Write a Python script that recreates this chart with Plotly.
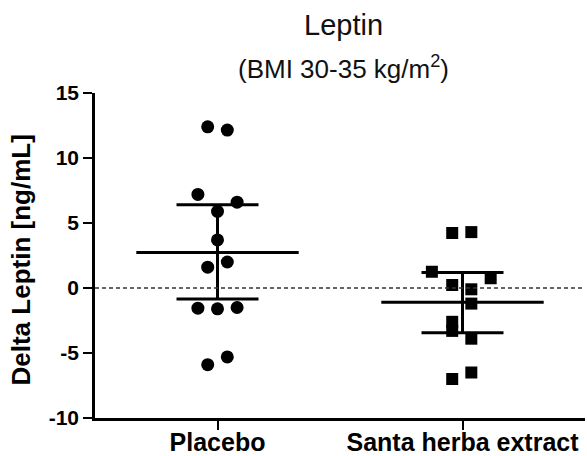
import plotly.graph_objects as go

categories = ["Placebo", "Santa herba extract"]

placebo_values = [12.4, 12.15, 7.2, 6.6, 5.9, 3.7, 2.0, 1.6, -1.55, -1.6, -1.5, -5.3, -5.9]
placebo_jitter = [-0.04, 0.04, -0.08, 0.08, 0.0, 0.0, 0.04, -0.04, -0.08, 0.0, 0.08, 0.04, -0.04]

santa_values = [4.23, 4.3, 1.25, 0.75, 0.23, -0.1, -1.2, -2.6, -3.3, -3.9, -6.5, -7.0]
santa_jitter = [-0.042, 0.036, -0.125, 0.115, -0.042, 0.036, 0.036, -0.042, -0.042, 0.036, 0.036, -0.042]

group_means = [2.73, -1.1]
group_upper = [6.4, 1.2]
group_lower = [-0.85, -3.44]

y_ticks = [-10, -5, 0, 5, 10, 15]

FONT = "Arial, Liberation Sans, sans-serif"

fig = go.Figure()

fig.add_trace(go.Scatter(
    x=[0 + j for j in placebo_jitter], y=placebo_values, mode="markers",
    marker=dict(symbol="circle", size=13, color="black"), showlegend=False, hoverinfo="y"))
fig.add_trace(go.Scatter(
    x=[1 + j for j in santa_jitter], y=santa_values, mode="markers",
    marker=dict(symbol="square", size=12, color="black"), showlegend=False, hoverinfo="y"))

# mean lines
fig.add_trace(go.Scatter(
    x=[0, 1], y=group_means, mode="markers",
    marker=dict(symbol="line-ew", size=116, line=dict(width=3, color="black")),
    showlegend=False, hoverinfo="y"))

# interval bars
fig.add_trace(go.Scatter(
    x=[0, 1], y=group_means, mode="markers",
    marker=dict(size=1, color="rgba(0,0,0,0)"),
    error_y=dict(type="data", symmetric=False,
                 array=[u - m for u, m in zip(group_upper, group_means)],
                 arrayminus=[m - l for l, m in zip(group_lower, group_means)],
                 width=41, thickness=3, color="black"),
    showlegend=False, hoverinfo="skip"))

fig.add_hline(y=0, line=dict(color="#333333", width=1.3, dash="4px,3px"))

fig.update_layout(
    width=587, height=456,
    margin=dict(l=95, r=2, t=93, b=38),
    paper_bgcolor="white", plot_bgcolor="white",
    font=dict(family=FONT, color="black"),
)
fig.add_annotation(text="Leptin", xref="paper", yref="paper", x=0.5, y=1.0,
                   xshift=3, yshift=68, yanchor="middle", showarrow=False,
                   font=dict(size=29, family=FONT, color="#111111"))
fig.add_annotation(text="(BMI 30-35 kg/m<sup>2</sup>)", xref="paper", yref="paper", x=0.5, y=1.0,
                   xshift=3, yshift=26, yanchor="middle", showarrow=False,
                   font=dict(size=26, family=FONT, color="#111111"))
fig.add_annotation(text="<b>Delta Leptin [ng/mL]</b>", xref="paper", yref="paper", x=0.0, y=0.5,
                   xshift=-74.5, yshift=-4.5, xanchor="center", yanchor="middle", textangle=-90,
                   showarrow=False, font=dict(size=26, family=FONT, color="black"))

fig.update_xaxes(
    range=[-0.5, 1.5], tickvals=[0, 1], ticktext=categories, automargin=False,
    showline=True, linecolor="black", linewidth=2.5,
    ticks="outside", ticklen=9, tickwidth=2, tickcolor="black",
    tickfont=dict(size=25, family=FONT, color="black", weight="bold"),
    ticklabelstandoff=-9,
    showgrid=False, zeroline=False,
)
fig.update_yaxes(
    range=[-10, 15], tickvals=y_ticks, ticktext=[str(t) for t in y_ticks], automargin=False,
    showline=True, linecolor="black", linewidth=2.5,
    ticks="outside", ticklen=9, tickwidth=2, tickcolor="black",
    tickfont=dict(size=21, family=FONT, color="black", weight="bold"),
    showgrid=False, zeroline=False,
)

fig.write_html("out.html", config={"displayModeBar": False},
               post_script="document.body.style.margin='0';document.body.style.overflow='hidden';")
